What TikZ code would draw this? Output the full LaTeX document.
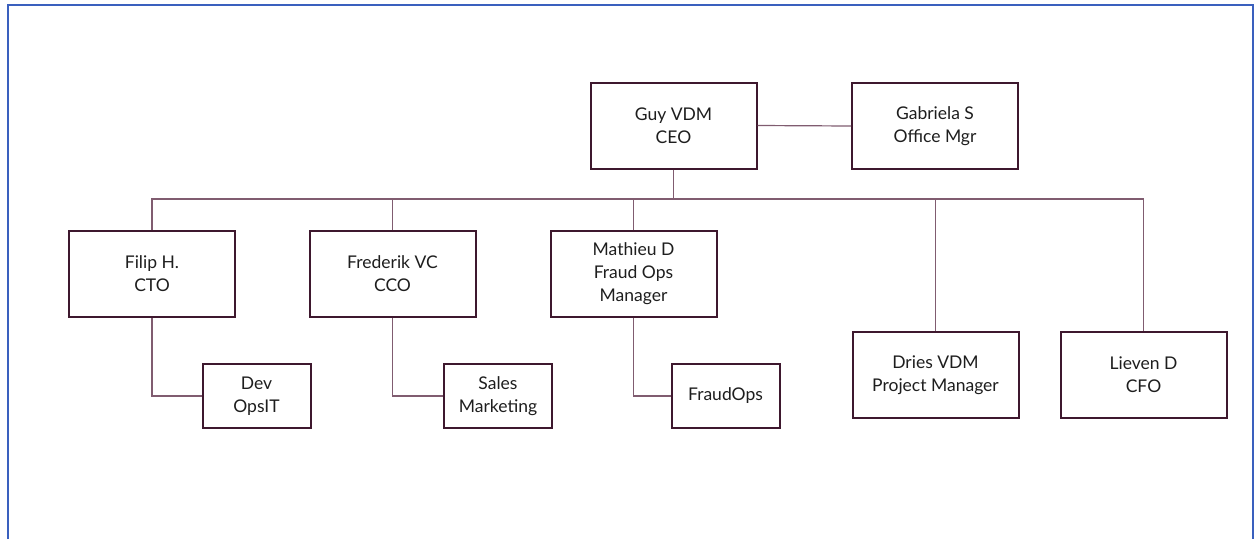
\documentclass[tikz,border=0pt]{standalone}
\usepackage{fontspec}
\setmainfont{Lato}
\definecolor{boxline}{RGB}{62,24,46}
\definecolor{linkline}{RGB}{128,92,112}
\definecolor{frameblue}{RGB}{58,96,190}
\definecolor{textgrey}{RGB}{30,30,30}
\tikzset{
  person/.style={draw=boxline,line width=2pt,fill=white,align=center,
    text=textgrey,font=\fontsize{17.5}{23}\selectfont,inner sep=0pt},
  bigbox/.style={person,minimum width=166pt,minimum height=86pt},
  smallbox/.style={person,minimum width=108pt,minimum height=64pt},
  link/.style={draw=linkline,line width=1.2pt}
}
\begin{document}
\begin{tikzpicture}[x=1pt,y=-1pt]
        \useasboundingbox (0,0) rectangle (1258,539);

        % frame
        \draw[frameblue,line width=2pt] (8,539) -- (8,5) -- (1253,5) -- (1253,539);

        \coordinate (bus) at (0,199);

        \node[bigbox] (ceo) at (673.5,125.5) {Guy VDM\\CEO};
        \node[bigbox] (office) at (935,126) {Gabriela S\\Office Mgr};

        \node[bigbox] (cto) at (152,274) {Filip H.\\CTO};
        \node[bigbox] (cco) at (392.5,274) {Frederik VC\\CCO};
        \node[bigbox] (fraudmgr) at (633.5,274) {Mathieu D\\Fraud Ops\\Manager};
        \node[bigbox] (pm) at (935.5,375) {Dries VDM\\Project Manager};
        \node[bigbox] (cfo) at (1143.5,375) {Lieven D\\CFO};

        \node[smallbox] (dev) at (256.5,396) {Dev\\OpsIT};
        \node[smallbox] (sales) at (498,396) {Sales\\Marketing};
        \node[smallbox] (fraudops) at (725.5,396) {FraudOps};

        \draw[link] (ceo.east) -- (office.west);
        \draw[link] (ceo.south) -- (ceo.south |- bus);
        \draw[link] (cto.north) |- (cfo.north |- bus) -- (cfo.north);
        \draw[link] (cco.north) -- (cco.north |- bus);
        \draw[link] (fraudmgr.north) -- (fraudmgr.north |- bus);
        \draw[link] (pm.north) -- (pm.north |- bus);

        \draw[link] (cto.south) |- (dev.west);
        \draw[link] (cco.south) |- (sales.west);
        \draw[link] (fraudmgr.south) |- (fraudops.west);
\end{tikzpicture}
\end{document}
